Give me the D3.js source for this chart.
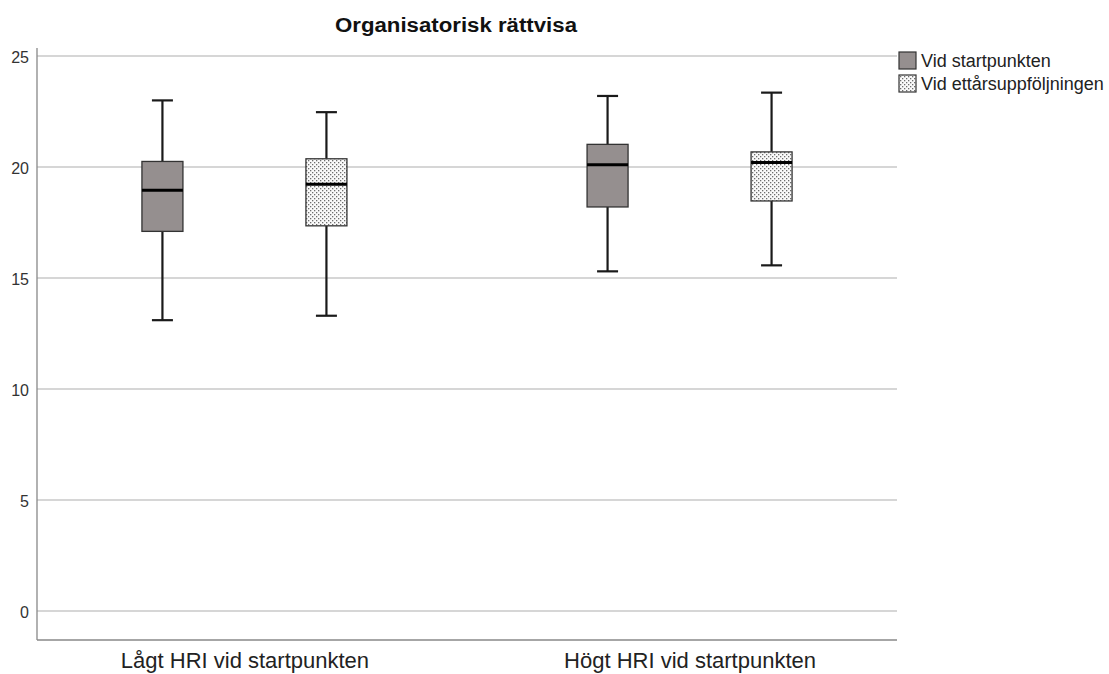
<!DOCTYPE html>
<html><head><meta charset="utf-8">
<script src="https://cdn.jsdelivr.net/npm/d3@7"></script>
<style>body{margin:0;background:#fff;} text{font-family:Arial,"Liberation Sans",sans-serif;}</style>
</head><body><svg id="c" width="1109" height="674"></svg>
<script>
const title = "Organisatorisk rättvisa";
const categories = ["Lågt HRI vid startpunkten", "Högt HRI vid startpunkten"];
const seriesNames = ["Vid startpunkten", "Vid ettårsuppföljningen"];
// [whiskerLow, Q1, median, Q3, whiskerHigh] per category
const startValues = [[13.1, 17.1, 18.95, 20.25, 23.0], [15.3, 18.2, 20.1, 21.02, 23.2]];
const followValues = [[13.3, 17.35, 19.22, 20.37, 22.47], [15.57, 18.47, 20.2, 20.68, 23.35]];
const yTicks = [0, 5, 10, 15, 20, 25];

(function(){
const svg = d3.select("#c");
const defs = svg.append("defs");
const pat = defs.append("pattern").attr("id","dots").attr("patternUnits","userSpaceOnUse").attr("width",4).attr("height",4);
pat.append("rect").attr("width",4).attr("height",4).attr("fill","#fafafa");
pat.append("rect").attr("x",0).attr("y",0).attr("width",1.3).attr("height",1.3).attr("fill","#6e6e6e");
pat.append("rect").attr("x",2).attr("y",2).attr("width",1.3).attr("height",1.3).attr("fill","#6e6e6e");

const mLeft = 37, mRight = 897, mTop = 48, mBottom = 640;
const y = d3.scaleLinear().domain([0, 25]).range([611, 56]);
const x = d3.scalePoint().domain(categories).range([mLeft, mRight]).padding(0.466);
const sub = d3.scalePoint().domain(seriesNames).range([-82, 82]);
const fills = ["#958f8f", "url(#dots)"];
const boxW = 41, capW = 21;

svg.append("g").selectAll("line").data(yTicks).join("line")
  .attr("x1", mLeft).attr("x2", mRight).attr("y1", d => y(d)).attr("y2", d => y(d))
  .attr("stroke", "#c8c8c8").attr("stroke-width", 1.3);

const yAxis = d3.axisLeft(y).tickValues(yTicks).tickSize(0).tickPadding(8);
const ga = svg.append("g").attr("transform", `translate(${mLeft},0)`).call(yAxis);
ga.select(".domain").remove();
ga.selectAll("text").attr("font-size", 16).attr("fill", "#333").attr("dy", "0.4em").attr("font-family","Arial,'Liberation Sans',sans-serif");
svg.append("line").attr("x1", mLeft).attr("x2", mLeft).attr("y1", mTop).attr("y2", mBottom).attr("stroke", "#888").attr("stroke-width", 1.3);
svg.append("line").attr("x1", mLeft).attr("x2", mRight).attr("y1", mBottom).attr("y2", mBottom).attr("stroke", "#888").attr("stroke-width", 1.3);

const xAxis = d3.axisBottom(x).tickSize(0).tickPadding(12);
const gx = svg.append("g").attr("transform", `translate(0,${mBottom})`).call(xAxis);
gx.select(".domain").remove();
gx.selectAll("text").attr("font-size", 22).attr("fill", "#222").attr("dy", "0.71em").attr("font-family","Arial,'Liberation Sans',sans-serif");

const series = [startValues, followValues];
series.forEach((vals, si) => {
  const g = svg.append("g");
  categories.forEach((cat, ci) => {
    const [lo, q1, med, q3, hi] = vals[ci];
    const cx = x(cat) + sub(seriesNames[si]);
    g.append("line").attr("x1", cx).attr("x2", cx).attr("y1", y(hi)).attr("y2", y(q3)).attr("stroke", "#1a1a1a").attr("stroke-width", 2.2);
    g.append("line").attr("x1", cx).attr("x2", cx).attr("y1", y(q1)).attr("y2", y(lo)).attr("stroke", "#1a1a1a").attr("stroke-width", 2.2);
    g.append("line").attr("x1", cx - capW/2).attr("x2", cx + capW/2).attr("y1", y(hi)).attr("y2", y(hi)).attr("stroke", "#1a1a1a").attr("stroke-width", 2.2);
    g.append("line").attr("x1", cx - capW/2).attr("x2", cx + capW/2).attr("y1", y(lo)).attr("y2", y(lo)).attr("stroke", "#1a1a1a").attr("stroke-width", 2.2);
    g.append("rect").attr("x", cx - boxW/2).attr("y", y(q3)).attr("width", boxW).attr("height", y(q1) - y(q3))
      .attr("fill", fills[si]).attr("stroke", "#333").attr("stroke-width", 1.3);
    g.append("line").attr("x1", cx - boxW/2).attr("x2", cx + boxW/2).attr("y1", y(med)).attr("y2", y(med)).attr("stroke", "#000").attr("stroke-width", 3);
  });
});

svg.append("text").attr("x", 456).attr("y", 32).attr("text-anchor", "middle").attr("font-size", 20).attr("font-weight", "bold").attr("fill", "#111")
  .attr("textLength", 242).attr("lengthAdjust", "spacingAndGlyphs").text(title);

seriesNames.forEach((n, i) => {
  const ly = 52 + i * 23;
  svg.append("rect").attr("x", 899).attr("y", ly).attr("width", 17).attr("height", 17).attr("fill", fills[i]).attr("stroke", "#333").attr("stroke-width", 1.2);
  svg.append("text").attr("x", 921).attr("y", ly + 15).attr("font-size", 18).attr("fill", "#222").text(n);
});
})();
</script></body></html>
